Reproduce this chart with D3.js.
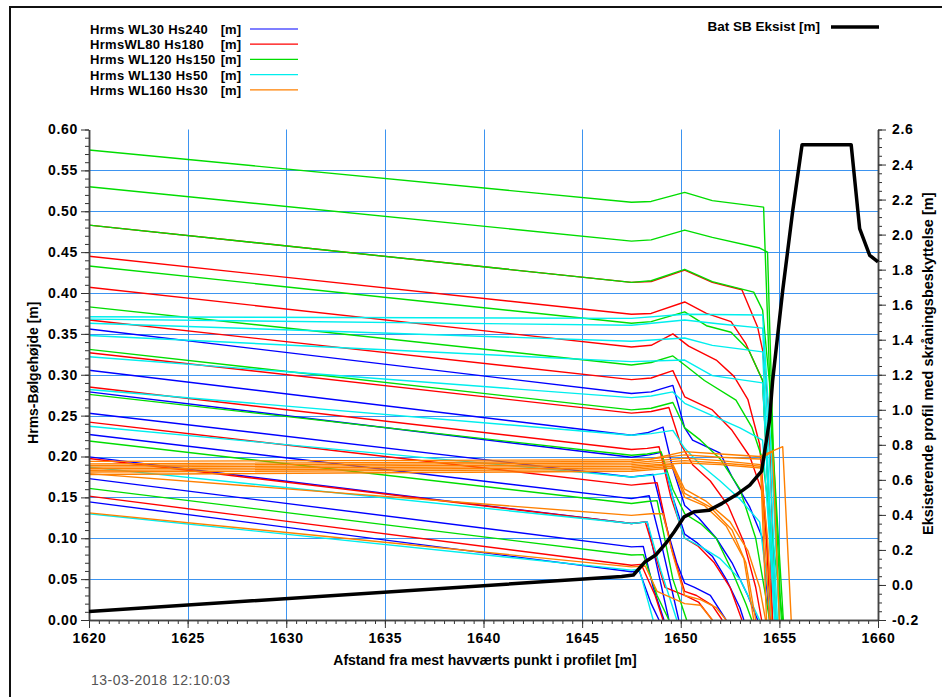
<!DOCTYPE html>
<html>
<head>
<meta charset="utf-8">
<script src="https://d3js.org/d3.v7.min.js"></script>
<style>
  body { margin: 0; background: #fff; }
  svg { display: block; font-family: 'Liberation Sans', Arial, sans-serif; }
</style>
</head>
<body>
<div id="vis"></div>
<script>
// axis ticks
const xTicks = [1620, 1625, 1630, 1635, 1640, 1645, 1650, 1655, 1660]
const hrmsTicks = [0, 0.05, 0.1, 0.15, 0.2, 0.25, 0.3, 0.35, 0.4, 0.45, 0.5, 0.55, 0.6]
const levelTicks = [-0.2, 0, 0.2, 0.4, 0.6, 0.8, 1.0, 1.2, 1.4, 1.6, 1.8, 2.0, 2.2, 2.4, 2.6]

// texts
const legendLabels = ['Hrms WL30 Hs240', 'HrmsWL80 Hs180', 'Hrms WL120 Hs150', 'Hrms WL130 Hs50', 'Hrms WL160 Hs30']
const unitLabel = '[m]'
const batLabel = 'Bat SB Eksist [m]'
const xLabel = 'Afstand fra mest havværts punkt i profilet [m]'
const yLeftLabel = 'Hrms-Bølgehøjde [m]'
const yRightLabel = 'Eksisterende profil med skråningsbeskyttelse [m]'
const stamp = '13-03-2018 12:10:03'

// Hrms lines, [distance, Hrms]
const wl30 = [
  [[1620,.356],[1647.5,.277],[1648.5,.279],[1649.6,.287],[1650.2,.235],[1650.6,.22],[1651.3,.212],[1652,.204],[1652.6,.175],[1653.5,.138],[1654.15,.1],[1654.5,0]],
  [[1620,.3055],[1647.5,.226],[1648.3,.229],[1649.1,.236],[1649.6,.185],[1650.2,.14],[1650.9,.125],[1651.8,.1],[1652.6,.07],[1653.4,.03],[1653.9,0]],
  [[1620,.279],[1647.5,.199],[1648.4,.202],[1649,.205],[1649.6,.15],[1650.2,.105],[1650.8,.095],[1651.6,.078],[1652.3,.05],[1653,.015],[1653.2,0]],
  [[1620,.253],[1647.5,.175],[1648.6,.178],[1649.2,.12],[1649.8,.07],[1650.2,.045],[1650.7,.04],[1651.5,.03],[1652.3,0]],
  [[1620,.227],[1647.5,.1485],[1648.4,.152],[1649,.095],[1649.9,0]],
  [[1620,.1995],[1647.5,.118],[1648.3,.12],[1648.8,.065],[1649.4,0]],
  [[1620,.173],[1647.5,.0895],[1648.1,.09],[1648.6,.04],[1649.15,0]],
  [[1620,.1445],[1647.5,.059],[1647.9,.06],[1648.5,.02],[1648.9,0]]
]
const wl80 = [
  [[1620,.483],[1647.5,.413],[1648.5,.414],[1650.2,.428],[1651.6,.413],[1653.1,.404],[1653.9,.358],[1654.15,.33],[1654.45,.26],[1654.8,0]],
  [[1620,.445],[1647.5,.374],[1648.5,.375],[1650.2,.389],[1651.3,.375],[1652.55,.365],[1653.3,.338],[1654.15,.293],[1654.45,.15],[1654.65,0]],
  [[1620,.407],[1647.5,.334],[1648.5,.336],[1649.6,.35],[1650.4,.335],[1651.8,.318],[1652.7,.298],[1653.4,.27],[1654,.215],[1654.3,.12],[1654.55,0]],
  [[1620,.367],[1647.5,.294],[1648.5,.296],[1649.6,.305],[1650.2,.273],[1651.6,.257],[1652.6,.232],[1653.5,.2],[1654.15,.155],[1654.45,.07],[1654.66,0]],
  [[1620,.327],[1647.5,.253],[1648.5,.255],[1649.4,.26],[1650,.215],[1650.6,.19],[1651.5,.17],[1652.4,.14],[1653.2,.095],[1653.8,.04],[1654.1,0]],
  [[1620,.285],[1647.5,.2085],[1648.3,.21],[1648.9,.212],[1649.5,.15],[1650.2,.1],[1650.9,.09],[1651.7,.07],[1652.5,.04],[1653.1,0]],
  [[1620,.242],[1647.5,.165],[1648.3,.167],[1648.8,.168],[1649.5,.09],[1650.2,.035],[1650.8,.03],[1651.6,.018],[1652.1,0]],
  [[1620,.1975],[1647.5,.118],[1648.2,.12],[1648.7,.08],[1649.2,.04],[1650.2,.03],[1650.9,.022],[1651.6,0]],
  [[1620,.1515],[1647.5,.067],[1648,.068],[1648.7,.03],[1649.1,0]]
]
const wl120 = [
  [[1620,.575],[1647.5,.511],[1648.5,.512],[1650.2,.523],[1651.6,.513],[1654.2,.505],[1654.5,.3],[1655.1,0]],
  [[1620,.53],[1647.5,.4635],[1648.5,.465],[1650.2,.477],[1651.6,.468],[1654,.455],[1654.4,.45],[1654.7,.2],[1655.2,0]],
  [[1620,.483],[1647.5,.413],[1648.5,.415],[1650.2,.429],[1651.6,.414],[1653.7,.401],[1654.15,.379],[1654.5,.29],[1655,0]],
  [[1620,.433],[1647.5,.363],[1648.5,.365],[1650.2,.377],[1651.3,.36],[1652.55,.352],[1653.45,.33],[1654.15,.293],[1654.45,.15],[1654.8,0]],
  [[1620,.383],[1647.5,.312],[1648.5,.315],[1649.6,.323],[1650.2,.312],[1651.2,.293],[1652.8,.269],[1653.6,.236],[1654.15,.196],[1655.17,0]],
  [[1620,.331],[1647.5,.257],[1648.5,.259],[1649.6,.266],[1650.2,.235],[1651,.22],[1652,.197],[1653,.16],[1653.8,.1],[1654.3,.03],[1654.5,0]],
  [[1620,.276],[1647.5,.2015],[1648.3,.203],[1649,.206],[1649.6,.16],[1650.2,.13],[1651,.118],[1651.8,.1],[1652.6,.06],[1653.3,.02],[1653.6,0]],
  [[1620,.219],[1647.5,.1425],[1648.3,.145],[1648.8,.146],[1649.6,.05],[1650.3,0]],
  [[1620,.161],[1647.5,.0795],[1648.1,.08],[1648.8,.03],[1649.4,0]]
]
const wl130 = [
  [[1620,.371],[1647.5,.369],[1650.2,.374],[1654.15,.373],[1654.6,.2],[1655,0]],
  [[1620,.368],[1647.5,.3605],[1650.2,.367],[1652,.362],[1654.15,.357],[1654.6,.15],[1654.9,0]],
  [[1620,.363],[1647.5,.341],[1650.2,.345],[1651.6,.336],[1654.15,.328],[1654.5,.15],[1654.85,0]],
  [[1620,.348],[1647.5,.316],[1650.2,.318],[1651.6,.299],[1654.15,.29],[1654.5,.12],[1654.8,0]],
  [[1620,.322],[1647.5,.272],[1648.5,.274],[1649.6,.279],[1650.2,.265],[1651.6,.25],[1653,.235],[1654.15,.22],[1654.5,.1],[1654.75,0]],
  [[1620,.282],[1647.5,.226],[1648.5,.228],[1649.6,.232],[1650.2,.21],[1651,.19],[1652,.17],[1653,.148],[1654,.12],[1654.4,.04],[1654.6,0]],
  [[1620,.237],[1647.5,.175],[1648.5,.177],[1649.3,.18],[1649.8,.13],[1650.2,.1],[1651,.09],[1652,.075],[1653,.05],[1653.6,.02],[1654,0]],
  [[1620,.187],[1647.5,.118],[1648.3,.12],[1649,.06],[1649.8,0]],
  [[1620,.13],[1647.5,.061],[1647.9,.062],[1648.6,0]]
]
const wl160 = [
  [[1620,.194],[1647.5,.196],[1648.5,.197],[1650.2,.206],[1652,.203],[1654,.2],[1655.17,.212],[1655.6,0]],
  [[1620,.191],[1647.5,.194],[1650.2,.202],[1652,.199],[1654,.197],[1654.66,.206],[1655,0]],
  [[1620,.189],[1647.5,.192],[1650.2,.198],[1652,.195],[1654.05,.19],[1654.5,0]],
  [[1620,.187],[1647.5,.19],[1650.2,.195],[1652,.192],[1654.05,.188],[1654.4,.1],[1654.6,0]],
  [[1620,.185],[1647.5,.188],[1650.2,.192],[1652,.19],[1654.05,.186],[1654.35,0]],
  [[1620,.183],[1647.5,.186],[1649.6,.19],[1650.2,.16],[1651.3,.145],[1652.5,.12],[1653.4,.085],[1654,.04],[1654.3,0]],
  [[1620,.181],[1647.5,.184],[1649.6,.188],[1650.2,.155],[1651.5,.138],[1652.6,.11],[1653.3,.07],[1653.8,0]],
  [[1620,.178],[1647.5,.182],[1649.6,.186],[1650.2,.15],[1651.2,.14],[1652.3,.115],[1653.2,.075],[1653.7,0]],
  [[1620,.179],[1647.5,.128],[1648.5,.13],[1649.1,.13],[1649.6,.08],[1650.2,.03],[1651,.025],[1651.8,.015],[1652.3,0]],
  [[1620,.131],[1647.5,.065],[1648.2,.066],[1648.8,.035],[1650.2,.02],[1651,.018],[1651.6,0]]
]

// existing bed profile, right axis
const batProfile = [
  [1620,-0.152],[1647,0.048],[1647.6,0.057],[1648.2,0.133],[1648.73,0.171],[1649.24,0.237],
  [1649.67,0.304],[1650.17,0.389],[1650.68,0.418],[1651.45,0.427],[1652.1,0.466],[1652.8,0.513],
  [1653.5,0.57],[1654.1,0.65],[1654.5,0.94],[1654.66,1.169],[1655.17,1.682],[1655.68,2.139],
  [1656.15,2.513],[1658.64,2.513],[1659.07,2.034],[1659.58,1.882],[1660,1.845]
]

const seriesColors = ['#0000ff', '#ff0000', '#00dd00', '#00eeee', '#ff8000']
const series = [wl30, wl80, wl120, wl130, wl160].map((lines, i) => ({
  name: legendLabels[i], lines, color: seriesColors[i]
}))

draw()

function styleAxis(g) {
  g.selectAll('text')
    .attr('font-family', "'Liberation Sans', Arial, sans-serif")
    .attr('font-size', 14)
    .attr('font-weight', 'bold')
    .style('letter-spacing', '0.7px')
    .attr('fill', '#000')
  g.selectAll('line').attr('stroke', '#333')
  g.select('.domain').attr('stroke', '#444').attr('stroke-width', 1.5)
}

function draw() {
  const width = 942
  const height = 697
  const plot = { left: 89, right: 878, top: 129.5, bottom: 620 }

  const svg = d3.select('#vis').append('svg')
    .attr('width', width).attr('height', height)

  // outer frame
  svg.append('rect')
    .attr('x', 10).attr('y', 7).attr('width', 945).attr('height', 705)
    .attr('fill', 'none').attr('stroke', '#111').attr('stroke-width', 2)

  const x = d3.scaleLinear().domain([1620, 1660]).range([plot.left, plot.right])
  const yL = d3.scaleLinear().domain([0, 0.6]).range([plot.bottom, plot.top])
  const yR = d3.scaleLinear().domain([-0.2, 2.6]).range([plot.bottom, plot.top])

  // grid
  const grid = svg.append('g').attr('stroke', '#3d94f0').attr('stroke-width', 1)
  grid.selectAll('.hg').data(hrmsTicks.slice(1, -1)).enter().append('line')
    .attr('x1', plot.left).attr('x2', plot.right)
    .attr('y1', d => Math.round(yL(d)) + 0.5).attr('y2', d => Math.round(yL(d)) + 0.5)
  grid.selectAll('.vg').data(xTicks.slice(1, -1)).enter().append('line')
    .attr('y1', plot.top).attr('y2', plot.bottom)
    .attr('x1', d => Math.round(x(d)) + 0.5).attr('x2', d => Math.round(x(d)) + 0.5)

  svg.append('clipPath').attr('id', 'clip').append('rect')
    .attr('x', plot.left).attr('y', plot.top)
    .attr('width', plot.right - plot.left).attr('height', plot.bottom - plot.top)

  const lineL = d3.line().x(d => x(d[0])).y(d => yL(d[1]))
  const lineR = d3.line().x(d => x(d[0])).y(d => yR(d[1]))

  const lines = svg.append('g').attr('clip-path', 'url(#clip)')
  series.forEach(s => {
    lines.append('g').selectAll('path').data(s.lines).enter().append('path')
      .attr('d', lineL)
      .attr('fill', 'none')
      .attr('stroke', s.color)
      .attr('stroke-width', 1.4)
      .attr('stroke-linejoin', 'round')
  })

  // axes
  const fmt2 = d => d.toFixed(2)
  const fmt1 = d => d.toFixed(1)

  svg.append('g').attr('transform', `translate(${plot.left},0)`)
    .call(d3.axisLeft(yL).tickValues(d3.range(0, 0.6001, 0.01)).tickFormat('').tickSize(4).tickSizeOuter(0))
    .call(styleAxis)
  svg.append('g').attr('transform', `translate(${plot.left},0)`)
    .call(d3.axisLeft(yL).tickValues(hrmsTicks).tickFormat(fmt2).tickSize(8).tickSizeOuter(0))
    .call(styleAxis)

  svg.append('g').attr('transform', `translate(${plot.right},0)`)
    .call(d3.axisRight(yR).tickValues(d3.range(-0.2, 2.6001, 0.05)).tickFormat('').tickSize(4).tickSizeOuter(0))
    .call(styleAxis)
  svg.append('g').attr('transform', `translate(${plot.right},0)`)
    .call(d3.axisRight(yR).tickValues(levelTicks).tickFormat(fmt1).tickSize(8).tickPadding(6).tickSizeOuter(0))
    .call(styleAxis)

  svg.append('g').attr('transform', `translate(0,${plot.bottom})`)
    .call(d3.axisBottom(x).tickValues(d3.range(1620, 1660.01, 0.5)).tickFormat('').tickSize(4).tickSizeOuter(0))
    .call(styleAxis)
  svg.append('g').attr('transform', `translate(0,${plot.bottom})`)
    .call(d3.axisBottom(x).tickValues(xTicks).tickFormat(d3.format('d')).tickSize(8).tickPadding(5).tickSizeOuter(0))
    .call(styleAxis)

  // bed profile
  svg.append('path').datum(batProfile)
    .attr('d', lineR)
    .attr('fill', 'none')
    .attr('stroke', '#000')
    .attr('stroke-width', 3.5)
    .attr('stroke-linejoin', 'round')

  // axis titles
  svg.append('text')
    .attr('x', 485).attr('y', 665)
    .attr('text-anchor', 'middle')
    .attr('font-size', 14).attr('font-weight', 'bold')
    .text(xLabel)

  svg.append('text')
    .attr('transform', `translate(38,${(plot.top + plot.bottom) / 2 - 2}) rotate(-90)`)
    .attr('text-anchor', 'middle')
    .attr('font-size', 14).attr('font-weight', 'bold')
    .text(yLeftLabel)

  svg.append('text')
    .attr('transform', `translate(933,${(plot.top + plot.bottom) / 2 - 11}) rotate(-90)`)
    .attr('text-anchor', 'middle')
    .attr('font-size', 14.5).attr('font-weight', 'bold')
    .text(yRightLabel)

  svg.append('text')
    .attr('x', 91).attr('y', 685)
    .attr('font-size', 14).attr('fill', '#555')
    .style('letter-spacing', '0.5px')
    .text(stamp)

  // legend
  const legend = svg.append('g')
  const rows = legend.selectAll('g').data(series).enter().append('g')
    .attr('transform', (d, i) => `translate(0,${29 + i * 15.2})`)
  rows.append('text')
    .attr('x', 90).attr('y', 5)
    .attr('font-size', 13).attr('font-weight', 'bold')
    .style('letter-spacing', '0.3px')
    .text(d => d.name)
  rows.append('text')
    .attr('x', 241).attr('y', 5)
    .attr('text-anchor', 'end')
    .attr('font-size', 13).attr('font-weight', 'bold')
    .text(unitLabel)
  rows.append('line')
    .attr('x1', 250).attr('x2', 298)
    .attr('stroke', d => d.color).attr('stroke-width', 1.2)

  legend.append('text')
    .attr('x', 820).attr('y', 31)
    .attr('text-anchor', 'end')
    .attr('font-size', 13.5).attr('font-weight', 'bold')
    .text(batLabel)
  legend.append('line')
    .attr('x1', 831).attr('x2', 879).attr('y1', 27).attr('y2', 27)
    .attr('stroke', '#000').attr('stroke-width', 3.5)
}
</script>
</body>
</html>
